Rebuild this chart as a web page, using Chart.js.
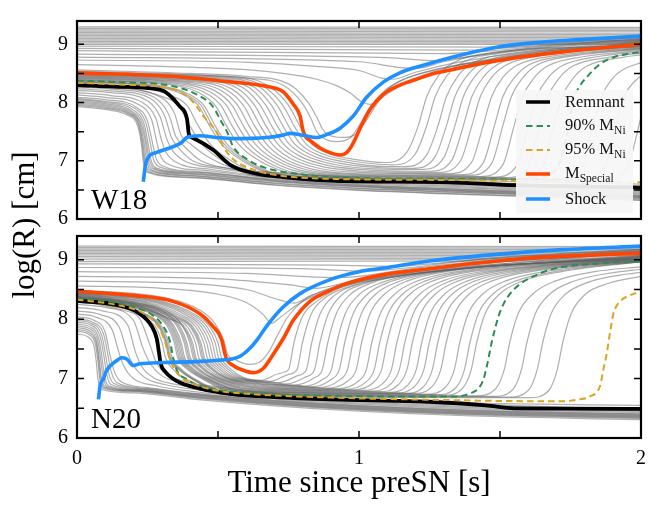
<!DOCTYPE html>
<html>
<head>
<meta charset="utf-8">
<script src="https://cdn.jsdelivr.net/npm/chart.js@4.4.1/dist/chart.umd.min.js"></script>
<style>
  body { margin: 0; background: #fff; font-family: "Liberation Serif", serif; }
  #wrap { position: relative; width: 660px; height: 506px; overflow: hidden; }
  canvas { position: absolute; left: 0; }
  .title { position: absolute; color: #000; font-size: 31px; text-align: center; white-space: nowrap; }
  #legend { position: absolute; left: 516px; top: 90px; width: 117px; height: 123px; background: rgba(246,246,246,0.93); }
  .row { position: absolute; left: 0; height: 20px; display: flex; align-items: center; font-size: 16.5px; color: #111; white-space: nowrap; }
  .row svg { margin-left: 10px; margin-right: 15px; }
  .row sub { font-size: 0.7em; vertical-align: -0.35em; }
</style>
</head>
<body>
<div id="wrap">
  <canvas id="topChart" width="660" height="240" style="top:0"></canvas>
  <canvas id="bottomChart" width="660" height="291" style="top:215px"></canvas>
  <div class="title" style="left:77px; top:464px; width:564px; line-height:36px;">Time since preSN [s]</div>
  <div class="title" style="left:-126px; top:207px; width:300px; line-height:36px; transform:rotate(-90deg);">log(R) [cm]</div>
  <div id="legend">
    <div class="row" style="top:2px"><svg width="24" height="8"><line x1="0" y1="4" x2="24" y2="4" stroke="#000" stroke-width="3.5"/></svg><span>Remnant</span></div>
    <div class="row" style="top:26px"><svg width="24" height="8"><line x1="0" y1="4" x2="24" y2="4" stroke="#2e8b57" stroke-width="2" stroke-dasharray="6.5 4"/></svg><span>90% M<sub>Ni</sub></span></div>
    <div class="row" style="top:50px"><svg width="24" height="8"><line x1="0" y1="4" x2="24" y2="4" stroke="#daa520" stroke-width="2" stroke-dasharray="6.5 4"/></svg><span>95% M<sub>Ni</sub></span></div>
    <div class="row" style="top:74px"><svg width="24" height="8"><line x1="0" y1="4" x2="24" y2="4" stroke="#ff4500" stroke-width="3.5"/></svg><span>M<sub>Special</sub></span></div>
    <div class="row" style="top:99px"><svg width="24" height="8"><line x1="0" y1="4" x2="24" y2="4" stroke="#1e90ff" stroke-width="3.5"/></svg><span>Shock</span></div>
  </div>
</div>
<script>
// axis ticks
const timeTicks = [0, 1, 2];
const radiusTicks = [6, 7, 8, 9];
const timeMarks = [0, 0.5, 1, 1.5, 2];
const radiusMarks = [6, 6.5, 7, 7.5, 8, 8.5, 9];

// ---- W18 : [time s, log R] ----
const w18Remnant = [[0,8.30],[0.15,8.27],[0.294,8.22],[0.365,7.93],[0.39,7.72],[0.397,7.45],[0.408,7.40],[0.482,7.19],[0.543,6.93],[0.624,6.79],[0.73,6.72],[0.897,6.66],[1.32,6.63],[1.557,6.58],[2,6.54]];
const w18Ni90 = [[0,8.37],[0.15,8.35],[0.33,8.29],[0.424,8.14],[0.482,7.93],[0.513,7.66],[0.531,7.51],[0.553,7.25],[0.602,7.03],[0.673,6.87],[0.79,6.77],[0.9,6.72],[1.3,6.69],[1.55,6.68],[1.65,6.72],[1.71,6.95],[1.74,7.5],[1.76,8.05],[1.78,8.26],[1.81,8.45],[1.855,8.66],[1.91,8.79],[1.96,8.84],[2,8.87]];
const w18Ni95 = [[0,8.34],[0.15,8.31],[0.33,8.24],[0.39,8.11],[0.425,7.93],[0.447,7.77],[0.475,7.62],[0.495,7.5],[0.518,7.25],[0.553,7.03],[0.624,6.85],[0.73,6.74],[0.9,6.69],[1.3,6.67],[1.7,6.65],[2,6.63]];
const w18Special = [[0,8.51],[0.33,8.45],[0.51,8.37],[0.68,8.27],[0.73,8.19],[0.766,7.98],[0.791,7.77],[0.802,7.51],[0.813,7.40],[0.826,7.35],[0.862,7.22],[0.897,7.14],[0.933,7.10],[0.956,7.14],[0.979,7.30],[1.004,7.56],[1.039,7.88],[1.086,8.14],[1.145,8.30],[1.204,8.40],[1.275,8.51],[1.323,8.56],[1.49,8.72],[1.72,8.87],[2,9.0]];
const w18Shock = [[0.235,6.64],[0.245,6.98],[0.28,7.14],[0.34,7.24],[0.37,7.31],[0.39,7.40],[0.436,7.43],[0.495,7.40],[0.554,7.38],[0.673,7.40],[0.73,7.44],[0.755,7.47],[0.8,7.44],[0.85,7.40],[0.885,7.45],[0.933,7.56],[0.98,7.77],[1.027,8.09],[1.086,8.35],[1.145,8.51],[1.228,8.64],[1.323,8.77],[1.40,8.86],[1.488,8.95],[1.606,9.02],[1.78,9.08],[2,9.14]];
const w18Shells = [
  [[0,9.30],[2,9.29]], [[0,9.275],[2,9.265]], [[0,9.25],[2,9.24]], [[0,9.225],[2,9.215]],
  [[0,9.20],[2,9.19]], [[0,9.175],[2,9.165]], [[0,9.15],[2,9.14]], [[0,9.125],[2,9.115]],
  [[0,9.10],[2,9.09]], [[0,9.075],[2,9.065]], [[0,9.05],[2,9.04]], [[0,9.025],[2,9.02]],
  [[0,9.0],[2,9.0]],
  [[0,8.97],[1.5,8.95],[1.6,8.98],[1.85,9.07],[2,9.12]],
  [[0,8.93],[1.4,8.9],[1.5,8.93],[1.8,9.03],[2,9.1]],
  [[0,8.89],[1.3,8.84],[1.4,8.86],[1.7,8.99],[2,9.09]],
  [[0,8.83],[1.1,8.77],[1.28,8.72],[1.36,8.77],[1.6,8.93],[2,9.08]],
  [[0,8.78],[1.0,8.7],[1.15,8.6],[1.21,8.59],[1.3,8.7],[1.5,8.86],[2,9.07]],
  [[0,8.73],[0.61,8.69],[0.85,8.62],[1.0,8.55],[1.08,8.42],[1.12,8.4],[1.2,8.52],[1.35,8.69],[1.6,8.87],[2,9.06]],
  [[0,8.65],[0.3,8.62],[0.61,8.56],[0.73,8.5],[0.85,8.4],[0.92,8.29],[0.97,8.16],[1.01,8.01],[1.04,7.97],[1.1,8.15],[1.2,8.42],[1.35,8.64],[1.6,8.84],[2,9.05]],
  [[0,8.56],[0.4,8.5],[0.6,8.45],[0.75,8.32],[0.82,8.0],[0.85,7.75],[0.87,7.55],[0.89,7.45],[0.94,7.4],[0.99,7.46],[1.02,7.65],[1.06,7.95],[1.1,8.22],[1.16,8.4],[1.24,8.53],[1.33,8.63],[1.6,8.82],[2,9.04]],
  [[0,8.54],[0.4,8.48],[0.6,8.42],[0.73,8.30],[0.80,7.98],[0.83,7.72],[0.85,7.5],[0.87,7.4],[0.92,7.33],[0.97,7.4],[1.0,7.6],[1.04,7.93],[1.09,8.2],[1.15,8.38],[1.23,8.51],[1.32,8.61],[1.6,8.8],[2,9.03]],
  // shells between remnant and M_Special
  [[0,8.305],[0.2,8.235],[0.3,8.105],[0.36,7.95],[0.4,7.6],[0.44,7.3],[0.5,7.05],[0.6,6.78],[0.75,6.70],[1.0,6.66],[1.5,6.61],[2,6.56]],
  [[0,8.325],[0.23,8.255],[0.33,8.125],[0.39,7.95],[0.43,7.6],[0.47,7.3],[0.53,7.05],[0.63,6.8],[0.8,6.72],[1.0,6.69],[1.5,6.65],[2,6.6]],
  [[0,8.35],[0.27,8.28],[0.37,8.15],[0.43,7.95],[0.47,7.6],[0.51,7.3],[0.57,7.05],[0.67,6.8],[0.82,6.72],[1.2,6.69],[1.87,6.67],[1.95,6.87],[2,7.75]],
  [[0,8.355],[0.28,8.285],[0.38,8.155],[0.44,7.95],[0.48,7.6],[0.52,7.3],[0.58,7.05],[0.68,6.8],[0.83,6.72],[1.2,6.69],[1.79,6.68],[1.87,6.88],[1.91,7.6],[1.94,8.1],[1.99,8.42],[2,8.45]],
  [[0,8.36],[0.29,8.29],[0.39,8.16],[0.45,7.95],[0.49,7.6],[0.53,7.3],[0.59,7.05],[0.69,6.8],[0.84,6.72],[1.2,6.69],[1.71,6.68],[1.79,6.88],[1.83,7.6],[1.86,8.1],[1.9,8.42],[1.95,8.6],[2,8.68]],
  [[0,8.375],[0.33,8.305],[0.43,8.175],[0.49,7.95],[0.53,7.6],[0.57,7.3],[0.63,7.05],[0.73,6.82],[0.88,6.74],[1.2,6.71],[1.57,6.70],[1.65,6.9],[1.69,7.6],[1.72,8.1],[1.76,8.42],[1.81,8.63],[1.94,8.78],[2,8.82]],
  [[0,8.38],[0.35,8.31],[0.45,8.18],[0.51,7.95],[0.55,7.6],[0.59,7.3],[0.65,7.05],[0.75,6.82],[0.9,6.74],[1.2,6.72],[1.52,6.71],[1.6,6.91],[1.64,7.6],[1.67,8.1],[1.71,8.42],[1.76,8.63],[1.89,8.78],[2,8.85]],
  [[0,8.39],[0.37,8.32],[0.47,8.19],[0.53,7.95],[0.57,7.6],[0.61,7.3],[0.67,7.05],[0.77,6.83],[0.92,6.75],[1.2,6.73],[1.48,6.72],[1.56,6.92],[1.6,7.6],[1.63,8.1],[1.67,8.42],[1.72,8.63],[1.85,8.79],[2,8.87]],
  [[0,8.40],[0.39,8.33],[0.49,8.2],[0.55,7.95],[0.59,7.6],[0.63,7.3],[0.69,7.05],[0.79,6.84],[0.94,6.76],[1.2,6.74],[1.43,6.73],[1.51,6.93],[1.55,7.6],[1.58,8.1],[1.62,8.42],[1.67,8.63],[1.8,8.79],[2,8.89]],
  [[0,8.41],[0.41,8.34],[0.51,8.21],[0.57,7.95],[0.61,7.6],[0.65,7.3],[0.71,7.05],[0.81,6.85],[0.96,6.77],[1.2,6.75],[1.39,6.75],[1.47,6.95],[1.51,7.6],[1.54,8.1],[1.58,8.42],[1.63,8.64],[1.76,8.8],[2,8.91]],
  [[0,8.42],[0.43,8.35],[0.53,8.22],[0.59,7.95],[0.63,7.6],[0.67,7.3],[0.73,7.05],[0.83,6.86],[0.98,6.78],[1.2,6.77],[1.36,6.76],[1.44,6.96],[1.48,7.6],[1.51,8.1],[1.55,8.42],[1.6,8.64],[1.73,8.8],[2,8.92]],
  [[0,8.43],[0.45,8.36],[0.55,8.23],[0.61,7.95],[0.65,7.6],[0.69,7.3],[0.75,7.06],[0.85,6.88],[1.0,6.8],[1.32,6.78],[1.4,6.98],[1.44,7.6],[1.47,8.1],[1.51,8.43],[1.56,8.64],[1.69,8.8],[2,8.93]],
  [[0,8.44],[0.47,8.37],[0.57,8.24],[0.63,7.95],[0.67,7.6],[0.71,7.3],[0.77,7.07],[0.87,6.9],[1.02,6.82],[1.28,6.8],[1.36,7.0],[1.40,7.6],[1.43,8.1],[1.47,8.43],[1.52,8.64],[1.65,8.81],[2,8.94]],
  [[0,8.45],[0.49,8.38],[0.59,8.25],[0.65,7.95],[0.69,7.6],[0.73,7.3],[0.79,7.08],[0.89,6.92],[1.04,6.84],[1.25,6.82],[1.33,7.02],[1.37,7.6],[1.40,8.1],[1.44,8.43],[1.49,8.65],[1.62,8.82],[2,8.95]],
  [[0,8.46],[0.51,8.39],[0.61,8.26],[0.67,7.95],[0.71,7.6],[0.75,7.3],[0.81,7.09],[0.91,6.94],[1.06,6.86],[1.22,6.85],[1.30,7.05],[1.34,7.6],[1.37,8.1],[1.41,8.44],[1.46,8.66],[1.59,8.83],[2,8.96]],
  [[0,8.47],[0.53,8.40],[0.63,8.26],[0.69,7.95],[0.73,7.6],[0.77,7.3],[0.83,7.1],[0.93,6.96],[1.08,6.88],[1.19,6.87],[1.27,7.07],[1.31,7.6],[1.34,8.1],[1.38,8.44],[1.43,8.66],[1.56,8.83],[2,8.97]],
  [[0,8.48],[0.55,8.41],[0.65,8.26],[0.71,7.95],[0.75,7.6],[0.79,7.3],[0.85,7.11],[0.95,6.98],[1.1,6.9],[1.16,6.9],[1.24,7.1],[1.28,7.6],[1.31,8.1],[1.35,8.45],[1.40,8.67],[1.53,8.84],[2,8.97]],
  [[0,8.49],[0.57,8.42],[0.67,8.25],[0.73,7.95],[0.77,7.6],[0.81,7.3],[0.87,7.12],[0.97,7.0],[1.12,6.93],[1.2,7.12],[1.24,7.6],[1.27,8.1],[1.31,8.45],[1.36,8.67],[1.49,8.84],[2,8.98]],
  [[0,8.50],[0.59,8.43],[0.69,8.25],[0.75,7.95],[0.79,7.6],[0.83,7.3],[0.89,7.13],[0.99,7.02],[1.09,6.97],[1.17,7.15],[1.21,7.6],[1.24,8.1],[1.28,8.45],[1.33,8.67],[1.46,8.85],[2,8.98]],
  // shells inside the remnant
  [[0,7.93],[0.1,7.88],[0.18,7.78],[0.215,7.6],[0.228,7.3],[0.236,6.95],[0.25,6.8],[0.4,6.71],[0.7,6.58],[1.0,6.49],[1.5,6.4],[2,6.32]],
  [[0,7.95],[0.1,7.9],[0.182,7.8],[0.218,7.61],[0.231,7.3],[0.239,6.96],[0.255,6.81],[0.4,6.72],[0.7,6.59],[1.0,6.5],[1.5,6.41],[2,6.33]],
  [[0,7.97],[0.1,7.92],[0.185,7.81],[0.22,7.62],[0.234,7.3],[0.242,6.98],[0.26,6.83],[0.4,6.74],[0.7,6.61],[1.0,6.52],[1.5,6.43],[2,6.35]],
  [[0,7.99],[0.1,7.94],[0.188,7.82],[0.224,7.62],[0.238,7.3],[0.247,6.99],[0.265,6.84],[0.4,6.75],[0.7,6.62],[1.0,6.53],[1.5,6.44],[2,6.36]],
  [[0,8.01],[0.1,7.96],[0.19,7.84],[0.228,7.62],[0.243,7.3],[0.252,7.0],[0.27,6.86],[0.4,6.77],[0.7,6.64],[1.0,6.55],[1.5,6.45],[2,6.37]],
  [[0,8.03],[0.1,7.98],[0.195,7.85],[0.233,7.62],[0.247,7.3],[0.257,7.01],[0.275,6.87],[0.41,6.78],[0.7,6.65],[1.0,6.56],[1.5,6.46],[2,6.38]],
  [[0,8.05],[0.1,8.0],[0.2,7.87],[0.238,7.63],[0.252,7.3],[0.262,7.02],[0.28,6.88],[0.42,6.79],[0.7,6.66],[1.0,6.57],[1.5,6.47],[2,6.39]],
  [[0,8.07],[0.1,8.02],[0.205,7.9],[0.244,7.65],[0.26,7.3],[0.271,7.03],[0.29,6.9],[0.43,6.8],[0.7,6.67],[1.0,6.58],[1.5,6.48],[2,6.4]],
  [[0,8.09],[0.1,8.05],[0.21,7.92],[0.25,7.68],[0.268,7.3],[0.28,7.05],[0.3,6.92],[0.44,6.81],[0.7,6.68],[1.0,6.59],[1.5,6.49],[2,6.41]],
  [[0,8.13],[0.1,8.09],[0.22,7.96],[0.265,7.7],[0.283,7.32],[0.295,7.1],[0.32,6.95],[0.46,6.83],[0.7,6.7],[1.0,6.61],[1.5,6.51],[2,6.43]],
  [[0,8.17],[0.12,8.12],[0.235,7.99],[0.28,7.72],[0.3,7.35],[0.315,7.15],[0.35,6.98],[0.48,6.85],[0.7,6.72],[1.0,6.63],[1.5,6.53],[2,6.45]],
  [[0,8.21],[0.12,8.17],[0.25,8.03],[0.295,7.75],[0.318,7.38],[0.335,7.2],[0.38,7.0],[0.5,6.87],[0.7,6.75],[1.0,6.65],[1.5,6.55],[2,6.47]],
  [[0,8.24],[0.12,8.2],[0.26,8.07],[0.31,7.78],[0.335,7.4],[0.36,7.22],[0.41,7.0],[0.52,6.88],[0.7,6.77],[1.0,6.67],[1.5,6.57],[2,6.49]],
  [[0,8.265],[0.12,8.23],[0.27,8.1],[0.325,7.8],[0.35,7.42],[0.38,7.25],[0.44,7.0],[0.55,6.86],[0.7,6.79],[1.0,6.69],[1.5,6.6],[2,6.51]],
  [[0,8.285],[0.13,8.25],[0.28,8.13],[0.345,7.82],[0.37,7.43],[0.4,7.3],[0.46,7.08],[0.55,6.88],[0.7,6.8],[1.0,6.71],[1.5,6.62],[2,6.53]]
];

// ---- N20 : [time s, log R] ----
const n20Remnant = [[0,8.31],[0.14,8.24],[0.22,8.10],[0.265,7.88],[0.283,7.67],[0.29,7.46],[0.297,7.25],[0.312,7.12],[0.353,6.96],[0.436,6.83],[0.55,6.74],[0.7,6.69],[0.9,6.65],[1.25,6.61],[1.45,6.55],[1.55,6.50],[2,6.49]];
const n20Ni90 = [[0,8.345],[0.1,8.31],[0.199,8.21],[0.27,8.06],[0.306,7.88],[0.33,7.62],[0.341,7.35],[0.354,7.14],[0.389,6.99],[0.436,6.88],[0.55,6.78],[0.8,6.72],[1.1,6.7],[1.346,6.70],[1.394,6.75],[1.423,6.83],[1.441,6.98],[1.453,7.20],[1.462,7.41],[1.471,7.62],[1.482,7.83],[1.494,8.04],[1.512,8.25],[1.536,8.43],[1.571,8.59],[1.618,8.72],[1.677,8.83],[1.738,8.89],[1.797,8.92],[1.867,8.94],[1.937,8.96],[2,8.97]];
const n20Ni95 = [[0,8.33],[0.141,8.24],[0.223,8.13],[0.27,7.98],[0.294,7.83],[0.312,7.62],[0.324,7.41],[0.336,7.25],[0.365,7.04],[0.413,6.91],[0.495,6.80],[0.65,6.73],[0.9,6.68],[1.3,6.64],[1.606,6.62],[1.724,6.62],[1.78,6.65],[1.819,6.70],[1.855,6.88],[1.866,7.14],[1.878,7.41],[1.89,7.77],[1.902,8.09],[1.926,8.30],[1.96,8.40],[2,8.47]];
const n20Special = [[0,8.47],[0.2,8.40],[0.34,8.30],[0.436,8.09],[0.482,7.88],[0.512,7.67],[0.525,7.41],[0.53,7.33],[0.554,7.22],[0.602,7.12],[0.626,7.10],[0.66,7.17],[0.696,7.41],[0.731,7.67],[0.767,7.98],[0.826,8.30],[0.886,8.46],[0.968,8.62],[1.09,8.75],[1.25,8.85],[1.37,8.92],[1.49,8.98],[1.606,9.03],[1.724,9.06],[2,9.11]];
const n20Shock = [[0.076,6.65],[0.082,6.88],[0.094,7.0],[0.105,7.14],[0.14,7.30],[0.158,7.35],[0.176,7.33],[0.2,7.22],[0.223,7.25],[0.31,7.27],[0.436,7.29],[0.5,7.31],[0.55,7.33],[0.58,7.38],[0.613,7.51],[0.64,7.66],[0.672,7.88],[0.73,8.2],[0.791,8.43],[0.9,8.67],[1.0,8.8],[1.09,8.86],[1.25,8.98],[1.488,9.09],[1.724,9.17],[2,9.23]];
const n20Shells = [
  [[0,9.23],[2,9.22]], [[0,9.205],[2,9.195]], [[0,9.18],[2,9.17]], [[0,9.155],[2,9.145]],
  [[0,9.13],[2,9.12]], [[0,9.105],[2,9.095]], [[0,9.08],[2,9.07]], [[0,9.055],[2,9.045]],
  [[0,9.03],[2,9.02]], [[0,9.0],[2,9.0]], [[0,8.97],[2,8.98]],
  [[0,8.93],[0.9,8.91],[1.12,8.89],[1.2,8.91],[1.5,9.04],[2,9.18]],
  [[0,8.87],[0.8,8.85],[1.02,8.81],[1.1,8.83],[1.4,8.99],[2,9.17]],
  [[0,8.80],[0.6,8.77],[0.92,8.7],[1.0,8.72],[1.2,8.86],[1.6,9.04],[2,9.16]],
  [[0,8.72],[0.5,8.68],[0.75,8.58],[0.85,8.52],[0.92,8.58],[1.05,8.72],[1.4,8.93],[2,9.15]],
  [[0,8.64],[0.4,8.6],[0.6,8.5],[0.72,8.32],[0.77,8.27],[0.83,8.4],[0.95,8.58],[1.2,8.8],[1.6,9.0],[2,9.14]],
  [[0,8.56],[0.3,8.52],[0.5,8.42],[0.6,8.28],[0.66,8.08],[0.69,7.93],[0.72,8.03],[0.8,8.3],[0.95,8.56],[1.2,8.78],[1.6,8.97],[2,9.13]],
  [[0,8.49],[0.3,8.37],[0.44,8.14],[0.49,7.92],[0.522,7.62],[0.535,7.4],[0.56,7.32],[0.61,7.24],[0.645,7.27],[0.68,7.45],[0.71,7.72],[0.745,8.02],[0.8,8.3],[0.9,8.53],[1.0,8.66],[1.3,8.88],[2,9.12]],
  // shells between remnant and M_Special
  [[0,8.455],[0.3,8.305],[0.42,8.075],[0.47,7.88],[0.5,7.6],[0.512,7.35],[0.54,7.18],[0.59,7.02],[0.65,6.97],[0.72,7.09],[0.75,7.15],[0.77,7.62],[0.8,8.05],[0.85,8.3],[0.93,8.52],[1.07,8.7],[2,9.08]],
  [[0,8.45],[0.29,8.3],[0.41,8.07],[0.46,7.88],[0.49,7.6],[0.502,7.35],[0.53,7.18],[0.58,7.02],[0.68,6.95],[0.75,7.07],[0.78,7.15],[0.8,7.62],[0.83,8.08],[0.88,8.36],[0.96,8.54],[1.1,8.7],[2,9.07]],
  [[0,8.445],[0.28,8.295],[0.4,8.065],[0.45,7.88],[0.48,7.6],[0.492,7.35],[0.52,7.18],[0.57,7.02],[0.713,6.93],[0.783,7.05],[0.813,7.15],[0.833,7.62],[0.863,8.1],[0.913,8.4],[0.993,8.58],[1.133,8.72],[2,9.06]],
  [[0,8.44],[0.27,8.29],[0.39,8.06],[0.44,7.88],[0.47,7.6],[0.482,7.35],[0.51,7.18],[0.56,7.02],[0.67,6.96],[0.742,6.91],[0.812,7.03],[0.842,7.15],[0.862,7.62],[0.892,8.1],[0.942,8.42],[1.022,8.6],[1.162,8.74],[2,9.055]],
  [[0,8.43],[0.26,8.28],[0.38,8.05],[0.43,7.88],[0.46,7.6],[0.472,7.35],[0.5,7.18],[0.55,7.02],[0.66,6.94],[0.77,6.89],[0.84,7.01],[0.87,7.15],[0.89,7.62],[0.92,8.1],[0.97,8.42],[1.05,8.62],[1.19,8.76],[2,9.05]],
  [[0,8.425],[0.25,8.275],[0.37,8.045],[0.42,7.88],[0.45,7.6],[0.462,7.35],[0.49,7.18],[0.54,7.02],[0.65,6.93],[0.802,6.87],[0.872,6.99],[0.902,7.15],[0.922,7.62],[0.952,8.1],[1.002,8.42],[1.082,8.62],[1.222,8.77],[2,9.04]],
  [[0,8.42],[0.24,8.27],[0.36,8.04],[0.41,7.88],[0.44,7.6],[0.452,7.35],[0.48,7.18],[0.53,7.02],[0.64,6.92],[0.79,6.88],[0.83,6.86],[0.9,6.98],[0.93,7.15],[0.95,7.62],[0.98,8.1],[1.03,8.42],[1.11,8.63],[1.25,8.78],[2,9.035]],
  [[0,8.41],[0.235,8.26],[0.355,8.03],[0.405,7.88],[0.435,7.6],[0.447,7.35],[0.475,7.18],[0.525,7.02],[0.635,6.91],[0.785,6.87],[0.859,6.85],[0.929,6.97],[0.959,7.15],[0.979,7.62],[1.009,8.1],[1.059,8.42],[1.139,8.63],[1.279,8.79],[2,9.03]],
  [[0,8.405],[0.23,8.255],[0.35,8.025],[0.4,7.88],[0.43,7.6],[0.442,7.35],[0.47,7.18],[0.52,7.02],[0.63,6.9],[0.78,6.86],[0.89,6.84],[0.96,6.96],[0.99,7.15],[1.01,7.62],[1.04,8.1],[1.09,8.42],[1.17,8.64],[1.31,8.8],[2,9.025]],
  [[0,8.40],[0.22,8.25],[0.34,8.02],[0.39,7.88],[0.42,7.6],[0.432,7.35],[0.46,7.18],[0.51,7.02],[0.62,6.89],[0.77,6.85],[0.926,6.83],[0.996,6.95],[1.026,7.15],[1.046,7.62],[1.076,8.1],[1.126,8.42],[1.206,8.64],[1.346,8.8],[2,9.02]],
  [[0,8.39],[0.21,8.24],[0.33,8.01],[0.38,7.88],[0.41,7.6],[0.422,7.35],[0.45,7.18],[0.5,7.02],[0.61,6.88],[0.76,6.84],[0.954,6.82],[1.024,6.94],[1.054,7.15],[1.074,7.62],[1.104,8.1],[1.154,8.42],[1.234,8.64],[1.374,8.8],[2,9.015]],
  [[0,8.385],[0.205,8.235],[0.325,8.005],[0.375,7.88],[0.405,7.6],[0.417,7.35],[0.445,7.18],[0.495,7.02],[0.605,6.87],[0.755,6.83],[0.98,6.81],[1.05,6.93],[1.08,7.15],[1.1,7.62],[1.13,8.1],[1.18,8.42],[1.26,8.64],[1.4,8.8],[2,9.01]],
  [[0,8.38],[0.2,8.28],[0.33,8.1],[0.375,7.88],[0.4,7.6],[0.412,7.35],[0.44,7.18],[0.49,7.02],[0.6,6.86],[0.75,6.82],[1.015,6.8],[1.085,6.92],[1.115,7.15],[1.135,7.62],[1.165,8.1],[1.215,8.42],[1.295,8.64],[1.435,8.8],[2,9.005]],
  [[0,8.375],[0.19,8.275],[0.32,8.095],[0.365,7.88],[0.39,7.6],[0.402,7.35],[0.43,7.18],[0.48,7.02],[0.59,6.85],[0.74,6.81],[1.043,6.79],[1.113,6.91],[1.143,7.15],[1.163,7.62],[1.193,8.1],[1.243,8.42],[1.323,8.64],[1.463,8.8],[2,9.0]],
  [[0,8.37],[0.185,8.27],[0.315,8.09],[0.36,7.88],[0.385,7.6],[0.397,7.35],[0.425,7.18],[0.475,7.02],[0.585,6.84],[0.735,6.8],[1.07,6.78],[1.14,6.9],[1.17,7.15],[1.19,7.62],[1.22,8.1],[1.27,8.42],[1.35,8.64],[1.49,8.8],[2,8.995]],
  [[0,8.365],[0.18,8.265],[0.31,8.085],[0.355,7.88],[0.38,7.6],[0.392,7.35],[0.42,7.18],[0.47,7.02],[0.58,6.83],[0.73,6.79],[1.103,6.77],[1.173,6.89],[1.203,7.15],[1.223,7.62],[1.253,8.1],[1.303,8.42],[1.383,8.64],[1.523,8.8],[2,8.99]],
  [[0,8.36],[0.17,8.26],[0.3,8.08],[0.345,7.88],[0.37,7.6],[0.382,7.35],[0.41,7.18],[0.46,7.02],[0.57,6.82],[0.72,6.78],[1.13,6.76],[1.2,6.88],[1.23,7.15],[1.25,7.62],[1.28,8.1],[1.33,8.42],[1.41,8.64],[1.55,8.8],[2,8.985]],
  [[0,8.358],[0.165,8.258],[0.295,8.078],[0.34,7.88],[0.365,7.6],[0.377,7.35],[0.405,7.18],[0.455,7.02],[0.565,6.81],[0.715,6.77],[1.16,6.75],[1.23,6.87],[1.26,7.15],[1.28,7.62],[1.31,8.1],[1.36,8.42],[1.44,8.64],[1.58,8.8],[2,8.98]],
  [[0,8.355],[0.16,8.255],[0.29,8.075],[0.335,7.88],[0.36,7.6],[0.372,7.35],[0.4,7.18],[0.45,7.02],[0.56,6.81],[0.71,6.77],[1.19,6.75],[1.26,6.87],[1.29,7.15],[1.31,7.62],[1.34,8.1],[1.39,8.42],[1.47,8.64],[1.61,8.8],[2,8.975]],
  [[0,8.352],[0.155,8.252],[0.285,8.072],[0.33,7.88],[0.355,7.6],[0.367,7.35],[0.395,7.18],[0.445,7.02],[0.555,6.8],[0.705,6.76],[1.238,6.74],[1.308,6.86],[1.338,7.15],[1.358,7.62],[1.388,8.1],[1.438,8.42],[1.518,8.64],[1.658,8.8],[2,8.97]],
  [[0,8.35],[0.15,8.25],[0.28,8.07],[0.325,7.88],[0.35,7.6],[0.362,7.35],[0.39,7.18],[0.44,7.02],[0.55,6.79],[0.7,6.75],[1.274,6.73],[1.344,6.85],[1.374,7.15],[1.394,7.62],[1.424,8.1],[1.474,8.42],[1.554,8.64],[1.694,8.8],[2,8.97]],
  [[0,8.348],[0.145,8.248],[0.275,8.068],[0.32,7.88],[0.345,7.6],[0.357,7.35],[0.385,7.18],[0.435,7.02],[0.545,6.78],[0.695,6.74],[1.298,6.72],[1.368,6.84],[1.398,7.15],[1.418,7.62],[1.448,8.1],[1.498,8.42],[1.578,8.64],[1.718,8.8],[2,8.965]],
  [[0,8.342],[0.125,8.242],[0.255,8.062],[0.3,7.88],[0.325,7.6],[0.337,7.35],[0.365,7.18],[0.415,7.0],[0.525,6.78],[0.675,6.74],[1.415,6.71],[1.485,6.83],[1.515,7.15],[1.535,7.62],[1.565,8.1],[1.615,8.42],[1.695,8.64],[1.835,8.8],[2,8.88]],
  [[0,8.34],[0.12,8.24],[0.25,8.06],[0.295,7.88],[0.32,7.6],[0.332,7.35],[0.36,7.18],[0.41,7.0],[0.52,6.77],[0.67,6.73],[1.476,6.7],[1.546,6.82],[1.576,7.15],[1.596,7.62],[1.626,8.1],[1.676,8.42],[1.756,8.63],[1.896,8.78],[2,8.84]],
  [[0,8.337],[0.117,8.237],[0.247,8.057],[0.292,7.88],[0.317,7.6],[0.329,7.35],[0.357,7.18],[0.407,7.0],[0.517,6.77],[0.667,6.72],[1.532,6.69],[1.602,6.81],[1.632,7.15],[1.652,7.62],[1.682,8.1],[1.732,8.42],[1.812,8.62],[1.952,8.76],[2,8.79]],
  [[0,8.335],[0.114,8.235],[0.244,8.055],[0.289,7.88],[0.314,7.6],[0.326,7.35],[0.354,7.18],[0.404,7.0],[0.514,6.76],[0.664,6.71],[1.603,6.68],[1.673,6.8],[1.703,7.15],[1.723,7.62],[1.753,8.1],[1.803,8.42],[1.883,8.6],[2,8.72]],
  [[0,8.32],[0.102,8.22],[0.232,8.04],[0.277,7.88],[0.302,7.6],[0.314,7.35],[0.342,7.15],[0.392,6.98],[0.5,6.76],[0.7,6.69],[1.0,6.64],[1.5,6.58],[2,6.55]],
  // shells inside the remnant
  [[0,7.75],[0.04,7.7],[0.06,7.55],[0.068,7.3],[0.074,7.0],[0.085,6.82],[0.2,6.76],[0.4,6.66],[0.7,6.54],[1.0,6.45],[1.4,6.37],[2,6.31]],
  [[0,7.80],[0.04,7.75],[0.065,7.58],[0.074,7.3],[0.08,7.02],[0.092,6.84],[0.2,6.78],[0.4,6.68],[0.7,6.56],[1.0,6.47],[1.4,6.39],[2,6.33]],
  [[0,7.83],[0.04,7.78],[0.068,7.6],[0.077,7.31],[0.083,7.03],[0.096,6.85],[0.2,6.79],[0.4,6.69],[0.7,6.57],[1.0,6.48],[1.4,6.4],[2,6.34]],
  [[0,7.86],[0.045,7.8],[0.07,7.62],[0.079,7.32],[0.086,7.04],[0.1,6.86],[0.2,6.8],[0.4,6.7],[0.7,6.58],[1.0,6.49],[1.4,6.41],[2,6.35]],
  [[0,7.89],[0.048,7.83],[0.074,7.64],[0.084,7.33],[0.092,7.05],[0.106,6.87],[0.21,6.8],[0.4,6.71],[0.7,6.59],[1.0,6.5],[1.4,6.42],[2,6.36]],
  [[0,7.92],[0.05,7.86],[0.078,7.66],[0.089,7.34],[0.097,7.06],[0.112,6.88],[0.22,6.81],[0.4,6.72],[0.7,6.6],[1.0,6.51],[1.4,6.43],[2,6.37]],
  [[0,7.95],[0.05,7.9],[0.083,7.69],[0.096,7.36],[0.105,7.08],[0.12,6.9],[0.225,6.82],[0.4,6.73],[0.7,6.61],[1.0,6.52],[1.4,6.44],[2,6.38]],
  [[0,7.98],[0.05,7.93],[0.088,7.72],[0.102,7.38],[0.112,7.1],[0.13,6.92],[0.23,6.83],[0.4,6.74],[0.7,6.62],[1.0,6.53],[1.4,6.45],[2,6.39]],
  [[0,8.01],[0.055,7.95],[0.094,7.75],[0.11,7.39],[0.121,7.12],[0.142,6.93],[0.24,6.84],[0.4,6.75],[0.7,6.63],[1.0,6.54],[1.4,6.46],[2,6.4]],
  [[0,8.04],[0.06,7.98],[0.1,7.78],[0.117,7.4],[0.13,7.15],[0.155,6.95],[0.25,6.85],[0.4,6.76],[0.7,6.64],[1.0,6.55],[1.4,6.47],[2,6.41]],
  [[0,8.09],[0.07,8.03],[0.125,7.82],[0.148,7.45],[0.165,7.22],[0.2,7.0],[0.28,6.88],[0.4,6.79],[0.7,6.66],[1.0,6.57],[1.4,6.49],[2,6.43]],
  [[0,8.14],[0.08,8.08],[0.15,7.86],[0.178,7.45],[0.2,7.22],[0.24,7.02],[0.31,6.9],[0.45,6.8],[0.7,6.68],[1.0,6.59],[1.4,6.51],[2,6.45]],
  [[0,8.20],[0.09,8.14],[0.18,7.9],[0.207,7.45],[0.23,7.2],[0.27,7.02],[0.34,6.91],[0.48,6.82],[0.7,6.71],[1.0,6.61],[1.4,6.53],[2,6.46]],
  [[0,8.25],[0.1,8.2],[0.2,7.98],[0.235,7.5],[0.26,7.25],[0.3,7.05],[0.37,6.93],[0.5,6.84],[0.7,6.73],[1.0,6.63],[1.4,6.55],[2,6.47]],
  [[0,8.285],[0.12,8.22],[0.22,8.02],[0.26,7.55],[0.28,7.28],[0.32,7.07],[0.39,6.94],[0.52,6.85],[0.7,6.75],[1.0,6.64],[1.4,6.57],[2,6.48]]
];

const toXY = pts => pts.map(p => ({ x: p[0], y: p[1] }));

function line(pts, color, width, dash, order) {
  return {
    data: toXY(pts),
    borderColor: color,
    borderWidth: width,
    borderDash: dash || [],
    pointRadius: 0,
    cubicInterpolationMode: 'monotone',
    borderJoinStyle: 'round',
    fill: false,
    order: order
  };
}

function buildSets(shells, remnant, ni90, ni95, special, shock) {
  const sets = [
    line(shock, '#1e90ff', 3.6, null, 0),
    line(special, '#ff4500', 3.6, null, 1),
    line(ni95, '#daa520', 2, [6.5, 4], 2),
    line(ni90, '#2e8b57', 2, [6.5, 4], 3),
    line(remnant, '#000000', 3.8, null, 4)
  ];
  shells.forEach(s => sets.push(line(s, 'rgba(95,95,95,0.5)', 1.2, null, 10)));
  return sets;
}

// frame, inward ticks and panel label
const framePlugin = {
  id: 'frame',
  afterDraw(chart, args, opts) {
    const { ctx, chartArea: a } = chart;
    const x = chart.scales.x, y = chart.scales.y;
    const L = 7;
    ctx.save();
    ctx.strokeStyle = '#000';
    ctx.lineWidth = 1.5;
    ctx.beginPath();
    timeMarks.forEach(v => {
      const px = x.getPixelForValue(v);
      ctx.moveTo(px, a.top); ctx.lineTo(px, a.top + L);
      ctx.moveTo(px, a.bottom); ctx.lineTo(px, a.bottom - L);
    });
    radiusMarks.forEach(v => {
      const py = y.getPixelForValue(v);
      ctx.moveTo(a.left, py); ctx.lineTo(a.left + L, py);
      ctx.moveTo(a.right, py); ctx.lineTo(a.right - L, py);
    });
    ctx.stroke();
    ctx.lineWidth = 2.2;
    ctx.strokeRect(a.left, a.top, a.right - a.left, a.bottom - a.top);
    ctx.fillStyle = '#000';
    ctx.font = '29px "Liberation Serif"';
    ctx.textBaseline = 'alphabetic';
    ctx.fillText(opts.label, a.left + 14, a.bottom - 10.5);
    ctx.restore();
  }
};

function makeChart(id, sets, label, showTime, xHeight) {
  return new Chart(document.getElementById(id), {
    type: 'line',
    data: { datasets: sets },
    options: {
      responsive: false,
      animation: false,
      events: [],
      layout: { padding: { top: 7, right: 19, left: 0, bottom: 0 } },
      plugins: { legend: { display: false }, tooltip: { enabled: false }, frame: { label: label } },
      scales: {
        x: {
          type: 'linear', min: 0, max: 2,
          grid: { display: false, drawTicks: false },
          border: { display: false },
          afterBuildTicks: s => { s.ticks = timeTicks.map(v => ({ value: v })); },
          afterFit: s => { s.height = xHeight; },
          ticks: { display: showTime, padding: 9, color: '#000', font: { family: 'Liberation Serif', size: 20 }, maxRotation: 0, autoSkip: false, callback: v => String(v) }
        },
        y: {
          min: 6, max: 9.4,
          grid: { display: false, drawTicks: false },
          border: { display: false },
          afterBuildTicks: s => { s.ticks = radiusTicks.map(v => ({ value: v })); },
          afterFit: s => { s.width = 77; },
          ticks: { padding: 9, color: '#000', font: { family: 'Liberation Serif', size: 20 }, autoSkip: false, callback: v => String(v) }
        }
      }
    },
    plugins: [framePlugin]
  });
}

makeChart('topChart', buildSets(w18Shells, w18Remnant, w18Ni90, w18Ni95, w18Special, w18Shock), 'W18', false, 18);
makeChart('bottomChart', buildSets(n20Shells, n20Remnant, n20Ni90, n20Ni95, n20Special, n20Shock), 'N20', true, 68);
</script>
</body>
</html>
